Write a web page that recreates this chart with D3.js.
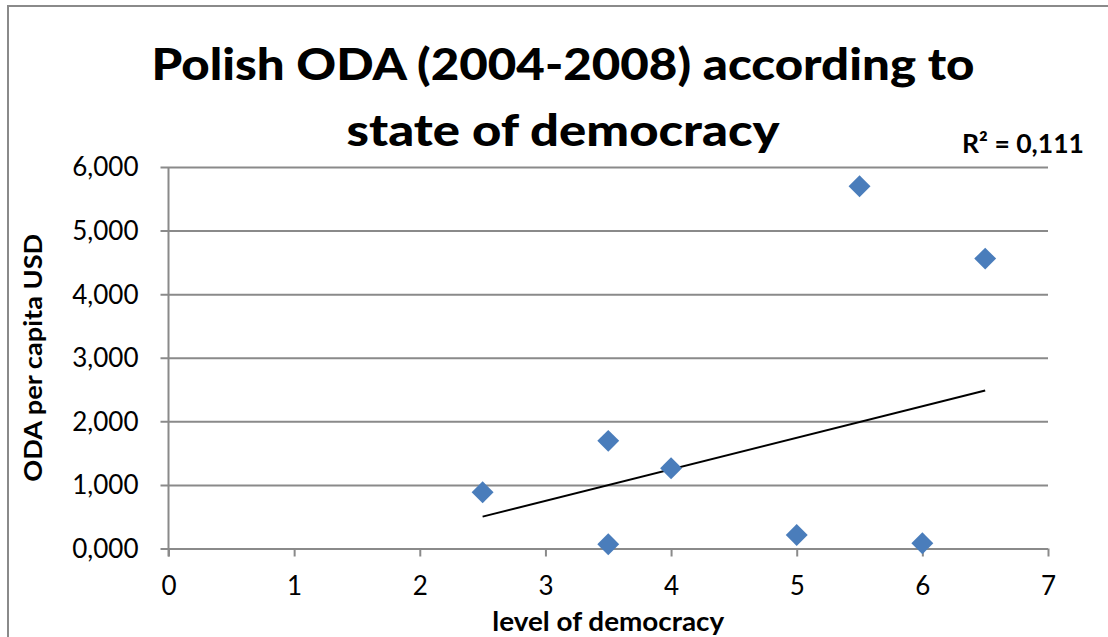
<!DOCTYPE html>
<head>
    <meta charset="utf-8">
    <title>Polish ODA according to state of democracy</title>
    <style>
        body { margin: 0; background: #fff; }
        text { font-family: Lato, "Liberation Sans", sans-serif; fill: #000; }
    </style>
</head>

<script src="https://cdn.jsdelivr.net/npm/d3@7"></script>

<div id="my_dataviz"></div>

<script>

    // values (x = level of democracy, y = ODA per capita USD)
    var democracy = [2.5, 3.5, 3.5, 4, 5, 5.5, 6, 6.5]
    var odaPerCapita = [0.885, 1.693, 0.066, 1.263, 0.213, 5.698, 0.082, 4.559]

    // linear trend line as drawn in the original
    var trendX = [2.5, 6.5]
    var trendY = [0.501, 2.485]
    var rSquared = "0,111"

    var xTicks = [0, 1, 2, 3, 4, 5, 6, 7]
    var yTicks = [0, 1, 2, 3, 4, 5, 6]

    var titleLines = ["Polish ODA (2004-2008) according to", "state of democracy"]

    // set the dimensions and margins of the graph
    var W = 1108, H = 637
    var margin = {top: 167, right: 60, bottom: 88.5, left: 168.5},
        width = W - margin.left - margin.right,
        height = H - margin.top - margin.bottom

    var svg = d3.select("#my_dataviz")
      .append("svg")
      .attr("width", W)
      .attr("height", H)

    // chart border (runs off the right / bottom edge)
    svg.append("rect")
        .attr("x", 8)
        .attr("y", 6)
        .attr("width", 1300)
        .attr("height", 900)
        .style("fill", "none")
        .style("stroke", "#8a8a8a")
        .style("stroke-width", 2)

    var g = svg.append("g")
      .attr("transform", "translate(" + margin.left + "," + margin.top + ")")

    var x = d3.scaleLinear()
      .domain([0, 7])
      .range([0, width])

    var y = d3.scaleLinear()
      .domain([0, 6])
      .range([height, 0])

    // polish style numbers: 6,000
    var pl = d3.formatLocale({decimal: ",", thousands: " ", grouping: [3], currency: ["", " zł"]})
    var yFmt = pl.format(".3f")

    // Y axis with gridlines
    var yAxis = g.append("g")
      .call(d3.axisLeft(y).tickValues(yTicks).tickSize(-width).tickPadding(30).tickFormat(yFmt))
    yAxis.select(".domain").remove()
    yAxis.selectAll(".tick line")
        .attr("x1", -8)
        .attr("stroke", "#8a8a8a")
        .attr("stroke-width", 2)
    yAxis.selectAll(".tick text")
        .style("font-size", "26px")
        .style("font-family", "Lato, sans-serif")
        .attr("dy", "0.34em")

    // Y axis line
    g.append("line")
        .attr("x1", 0).attr("x2", 0)
        .attr("y1", 0).attr("y2", height + 8)
        .attr("stroke", "#8a8a8a")
        .attr("stroke-width", 2)

    // X axis ticks and labels
    var xAxis = g.append("g")
      .attr("transform", "translate(0," + height + ")")
      .call(d3.axisBottom(x).tickValues(xTicks).tickSize(8).tickPadding(36).tickFormat(d3.format("d")))
    xAxis.select(".domain").remove()
    xAxis.selectAll(".tick line")
        .attr("stroke", "#8a8a8a")
        .attr("stroke-width", 2)
    xAxis.selectAll(".tick text")
        .style("font-size", "26px")
        .style("font-family", "Lato, sans-serif")
        .attr("dy", "0.1em")

    // trend line
    var trend = trendX.map(function (d, i) { return [d, trendY[i]] })
    g.append("path")
        .datum(trend)
        .attr("d", d3.line().x(function (d) { return x(d[0]) }).y(function (d) { return y(d[1]) }))
        .attr("stroke", "#000")
        .attr("stroke-width", 2)
        .attr("fill", "none")

    // diamonds
    var pts = democracy.map(function (d, i) { return {x: d, y: odaPerCapita[i]} })
    g.append("g")
      .selectAll("path")
      .data(pts)
      .enter()
      .append("path")
        .attr("d", d3.symbol().type(d3.symbolSquare).size(240))
        .attr("transform", function (d) { return "translate(" + x(d.x) + "," + y(d.y) + ") rotate(45)" })
        .style("fill", "#4a7dbb")

    // title
    var titleW = [823, 433]
    svg.append("g").selectAll("text")
      .data(titleLines)
      .enter()
      .append("text")
        .attr("x", 563)
        .attr("y", function (d, i) { return 80 + i * 66 })
        .attr("text-anchor", "middle")
        .attr("textLength", function (d, i) { return titleW[i] })
        .attr("lengthAdjust", "spacingAndGlyphs")
        .style("font-size", "44px")
        .style("font-weight", "900")
        .text(function (d) { return d })

    // R² label
    svg.append("text")
        .attr("x", 962)
        .attr("y", 153)
        .attr("textLength", 122)
        .attr("lengthAdjust", "spacingAndGlyphs")
        .style("font-size", "26px")
        .style("font-weight", "bold")
        .text("R² = " + rSquared)

    // X axis label
    svg.append("text")
        .attr("text-anchor", "middle")
        .attr("x", margin.left + width / 2)
        .attr("y", 631)
        .attr("textLength", 232)
        .attr("lengthAdjust", "spacingAndGlyphs")
        .style("font-size", "27px")
        .style("font-weight", "bold")
        .text("level of democracy")

    // Y axis label
    svg.append("text")
        .attr("text-anchor", "middle")
        .attr("transform", "translate(42," + (margin.top + height / 2) + ") rotate(-90)")
        .attr("textLength", 248)
        .attr("lengthAdjust", "spacingAndGlyphs")
        .style("font-size", "25px")
        .style("font-weight", "bold")
        .text("ODA per capita USD")

</script>
